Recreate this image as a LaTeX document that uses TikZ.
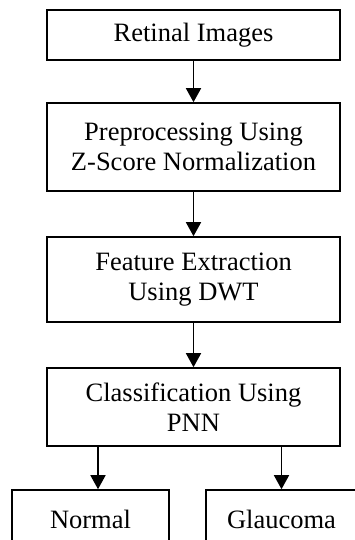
\documentclass[tikz,border=0pt]{standalone}
\usepackage{fontspec}
\setmainfont{Liberation Serif}
\usepackage{tikz}
\usetikzlibrary{arrows.meta}

\begin{document}
\begin{tikzpicture}[x=1pt,y=-1pt,
  box/.style={draw, line width=1.6pt, align=center, inner sep=0pt,
    font=\fontsize{26.5}{30}\selectfont},
  flow/.style={line width=1.6pt, -{Triangle[width=15pt,length=14pt]}}]

\useasboundingbox (0,0) rectangle (355,540);

\node[box, minimum width=293pt, minimum height=50pt] (ret) at (193.5,35) {Retinal Images};
\node[box, minimum width=293pt, minimum height=88pt] (pre) at (193.5,147) {Preprocessing Using\\Z-Score Normalization};
\node[box, minimum width=293pt, minimum height=85pt] (fea) at (193.5,279.5) {Feature Extraction\\Using DWT};
\node[box, minimum width=293pt, minimum height=78pt] (cls) at (193.5,407) {Classification Using\\PNN};
\node[box, minimum width=157pt, minimum height=58pt] (nrm) at (90.5,519) {Normal};
\node[box, minimum width=151pt, minimum height=58pt] (gla) at (281.5,519) {Glaucoma};

\draw[flow] (ret) -- (pre);
\draw[flow] (pre) -- (fea);
\draw[flow] (fea) -- (cls);
\draw[flow] ([xshift=7.5pt]nrm.north |- cls.south) -- ([xshift=7.5pt]nrm.north);
\draw[flow] (gla.north |- cls.south) -- (gla.north);
\end{tikzpicture}
\end{document}
